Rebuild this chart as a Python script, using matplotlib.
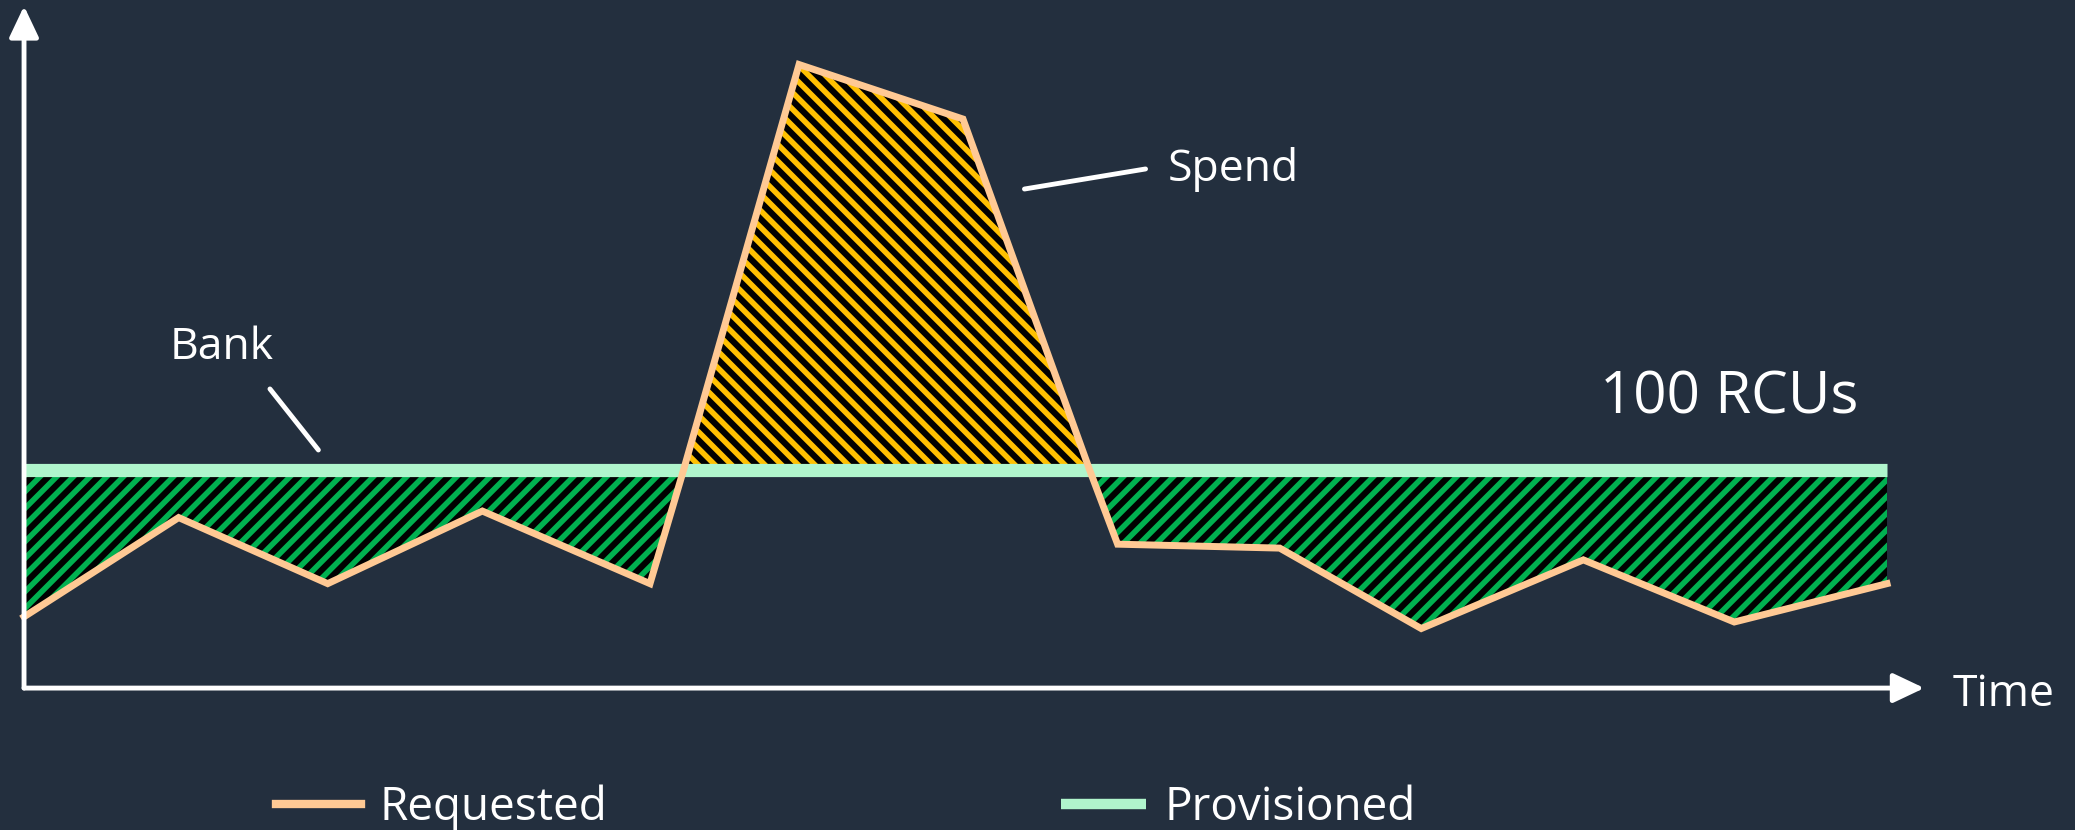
import numpy as np
import matplotlib.pyplot as plt

plt.rcParams['font.family'] = ['Open Sans', 'DejaVu Sans']
plt.rcParams['hatch.linewidth'] = 4

# data (time in arbitrary units, load in RCUs)
time = [0, 8.3, 16.3, 24.6, 33.6, 35.4, 41.6, 50.4, 57.2, 58.7, 67.4, 75.0, 83.7, 91.8, 100]
requested = [32.7, 78.2, 47.9, 81.2, 47.9, 100, 286, 261, 100, 66, 64.2, 27.3, 58.8, 30.3, 47.9]
provisioned = [100] * len(time)

bg = '#232F3E'
req_color = '#FFC994'
prov_color = '#B0F5CC'

fig = plt.figure(figsize=(20.75, 8.3), dpi=100, facecolor=bg)
ax = fig.add_axes([0, 0, 1, 1])
ax.set_facecolor(bg)
ax.set_xlim(-1.29, 110.09)
ax.set_ylim(-65.1, 315.6)
ax.axis('off')

t = np.array(time)
r = np.array(requested)
p = np.array(provisioned)

# bank (unused capacity) and spend (burst)
ax.fill_between(t, r, p, where=r <= p, interpolate=True, facecolor='black',
                edgecolor='#00B050', hatch='//', linewidth=0, zorder=1)
ax.fill_between(t, r, p, where=r >= p, interpolate=True, facecolor='black',
                edgecolor='#FFC000', hatch='\\\\', linewidth=0, zorder=1)

ax.plot(t, p, color=prov_color, lw=9.5, solid_capstyle='butt', zorder=2, label='Provisioned')
ax.plot(t, r, color=req_color, lw=5, solid_joinstyle='miter', zorder=3, label='Requested')

# axes arrows
arrow = dict(arrowstyle='-|>,head_length=1.9,head_width=0.9', color='white', lw=3.5,
             mutation_scale=10, shrinkA=0, shrinkB=0)
ax.annotate('', xy=(0, 312.8), xytext=(0, 0), arrowprops=arrow)
ax.annotate('', xy=(102.0, 0), xytext=(0, 0), arrowprops=arrow)

ax.text(103.5, -3, 'Time', color='white', fontsize=32, va='center', ha='left')
ax.text(84.6, 133, '100 RCUs', color='white', fontsize=42, va='center', ha='left')

# callouts
ax.text(61.4, 238, 'Spend', color='white', fontsize=32, va='center', ha='left')
ax.annotate('', xy=(53.7, 228.9), xytext=(60.2, 238.1),
            arrowprops=dict(arrowstyle='-', color='white', lw=3.5, shrinkA=0, shrinkB=0))
ax.text(10.6, 156, 'Bank', color='white', fontsize=32, va='center', ha='center')
ax.annotate('', xy=(15.8, 109.2), xytext=(13.2, 137.2),
            arrowprops=dict(arrowstyle='-', color='white', lw=3.5, shrinkA=0, shrinkB=0))

h, l = ax.get_legend_handles_labels()
leg = ax.legend(h[::-1], l[::-1], ncol=2, loc='center left', bbox_to_anchor=(0.113, 0.027),
                frameon=False, fontsize=33, handlelength=1.86, handletextpad=0.4,
                columnspacing=9.9, labelcolor='white')
leg.get_lines()[0].set_linewidth(6)
leg.get_lines()[1].set_linewidth(7.5)

fig.savefig('out.png', dpi=100, facecolor=bg)
